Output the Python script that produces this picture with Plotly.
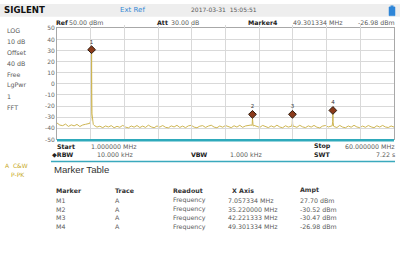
import plotly.graph_objects as go

W, H = 400, 271

# ---------------- data ----------------
noise_start_mhz = 1.0
noise_step_mhz = 0.5
noise_dbm = [
    -35.2, -37.1, -37.6, -36.2, -38.3, -36.9, -37.8, -36.5, -38.4, -37.0,
    -36.4, -35.7, -33.0, -37.4, -38.9, -38.1, -39.4, -37.9, -38.8, -37.6,
    -39.5, -38.2, -39.1, -37.4, -38.9, -39.6, -37.9, -39.0, -37.5, -39.3,
    -38.0, -39.2, -37.2, -38.7, -39.5, -37.9, -38.9, -37.5, -39.1, -39.6,
    -37.8, -38.8, -37.3, -39.2, -38.0, -39.4, -37.8, -37.3, -38.9, -39.5,
    -38.1, -37.6, -39.2, -38.0, -37.2, -38.9, -39.5, -37.9, -39.0, -37.5,
    -38.8, -39.4, -37.7, -38.9, -37.3, -39.1, -37.9, -37.1, -37.0, -37.4,
    -38.5, -39.2, -37.4, -38.7, -39.4, -37.8, -39.0, -37.2, -38.8, -39.5,
    -37.7, -38.9, -37.9, -38.2, -39.1, -37.3, -38.7, -39.4, -37.8, -38.9,
    -37.4, -39.0, -39.6, -38.0, -37.5, -38.8, -38.0, -38.4, -39.3, -37.4,
    -38.9, -39.5, -37.9, -39.0, -37.3, -38.8, -39.4, -38.0, -39.1, -37.5,
    -38.7, -39.5, -37.7, -38.9, -37.4, -38.8, -39.3, -37.9, -38.9,
]

peak1_mhz = [6.75, 6.9, 6.98, 7.02, 7.057334, 7.09, 7.13, 7.22, 7.35]
peak1_dbm = [-35.5, -33.0, -25.0, -5.0, 27.70, -8.0, -27.0, -33.5, -36.5]
peak2_mhz = [35.1, 35.18, 35.22, 35.26, 35.34]
peak2_dbm = [-37.5, -36.0, -30.52, -36.5, -38.0]
peak3_mhz = [42.1, 42.18, 42.221333, 42.26, 42.34]
peak3_dbm = [-38.0, -35.5, -30.47, -36.0, -38.2]
peak4_mhz = [49.18, 49.26, 49.301334, 49.34, 49.42]
peak4_dbm = [-37.8, -34.0, -26.98, -34.5, -38.1]

marker_names = ["M1", "M2", "M3", "M4"]
marker_labels = ["1", "2", "3", "4"]
marker_trace = ["A", "A", "A", "A"]
marker_readout = ["Frequency", "Frequency", "Frequency", "Frequency"]
marker_mhz = [7.057334, 35.220000, 42.221333, 49.301334]
marker_dbm = [27.70, -30.52, -30.47, -26.98]
marker_x_text = ["7.057334 MHz", "35.220000 MHz", "42.221333 MHz", "49.301334 MHz"]
marker_a_text = ["27.70 dBm", "-30.52 dBm", "-30.47 dBm", "-26.98 dBm"]

y_ticks = [50, 40, 30, 20, 10, 0, -10, -20, -30, -40, -50]
y_ticktext = ["50", "40", "30", "20", "10", "0", "-10", "-20", "-30", "-40", "-50"]
start_mhz, stop_mhz = 1.0, 60.0

# ---------------- build trace ----------------
peaks = [(peak1_mhz, peak1_dbm), (peak2_mhz, peak2_dbm),
         (peak3_mhz, peak3_dbm), (peak4_mhz, peak4_dbm)]
pts = []
for i, v in enumerate(noise_dbm):
    f = noise_start_mhz + i * noise_step_mhz
    if any(min(pf) <= f <= max(pf) for pf, _ in peaks):
        continue
    pts.append((f, v))
for pf, pd_ in peaks:
    pts.extend(zip(pf, pd_))
pts.sort()
tr_x = [p[0] for p in pts]
tr_y = [p[1] for p in pts]

# ---------------- layout geometry ----------------
PL, PR, PT, PB = 57, 394, 25, 139
xdom = [PL / W, PR / W]
ydom = [1 - PB / H, 1 - PT / H]
shift = 3.5 / H

fig = go.Figure()
fig.add_trace(go.Scatter(x=tr_x, y=tr_y, mode="lines",
                         line=dict(color="#cdb552", width=1), hoverinfo="skip",
                         xaxis="x", yaxis="y"))
fig.add_trace(go.Scatter(x=marker_mhz, y=marker_dbm, mode="markers+text",
                         text=marker_labels, textposition="top center",
                         textfont=dict(size=5.5, color="#333", family="DejaVu Sans"),
                         marker=dict(symbol="diamond", size=6, color="#8a3a1a",
                                     line=dict(color="#2e1c10", width=1)),
                         xaxis="x", yaxis="y2", cliponaxis=False))

ann = []


def T(x, y, s, size=6.3, color="#5a5a5a", anchor="left", family="DejaVu Sans"):
    ann.append(dict(x=x / W, y=1 - y / H, xref="paper", yref="paper", text=s,
                    showarrow=False, xanchor=anchor, yanchor="middle",
                    borderpad=0, font=dict(size=size, color=color, family=family)))


# header
T(3, 6.5, "<b>SIGLENT</b>", size=8.6, color="#111")
T(119, 6, "Ext Ref", size=7, color="#3388d4")
T(190, 6, "2017-03-31  15:05:51", size=6)
# second row
T(55, 19, "<b>Ref</b>", color="#222")
T(68, 19, "50.00 dBm")
T(156, 19, "<b>Att</b>", color="#222")
T(170, 19, "30.00 dB")
T(247, 19, "<b>Marker4</b>", color="#222")
T(292, 19, "49.301334 MHz")
T(396, 19, "-26.98 dBm", anchor="right")
# left panel
for yy, s in zip([27, 38, 50, 61, 72, 83, 95, 106],
                 ["LOG", "10 dB", "Offset", "40 dB", "Free", "LgPwr", "1", "FFT"]):
    T(6, yy, s)
# below plot
T(56, 146, "<b>Start</b>", color="#222")
T(90, 146, "1.000000 MHz")
T(313, 146, "<b>Stop</b>", color="#222")
T(396, 146, "60.000000 MHz", anchor="right")
T(51, 154, "<b>◆RBW</b>", color="#222")
T(134, 154, "10.000 kHz", anchor="right")
T(190, 154, "<b>VBW</b>", color="#222")
T(229, 154, "1.000 kHz")
T(313, 154, "<b>SWT</b>", color="#222")
T(396, 154, "7.22 s", anchor="right")
T(4, 166, "A  C&W", size=6, color="#c9ac2c")
T(10, 175, "P-PK", size=6, color="#c9ac2c")
# marker table
T(53, 169.5, "Marker Table", size=9.6, color="#333", family="Liberation Sans")
cols = [55, 114, 172, 231, 299]
for cx, s in zip(cols, ["Marker", "Trace", "Readout", "X Axis", "Ampt"]):
    T(cx, 191, "<b>" + s + "</b>", color="#333")
for i in range(len(marker_names)):
    yy = 201.5 + 9 * i
    T(cols[0], yy, marker_names[i])
    T(cols[1], yy, marker_trace[i])
    T(cols[2], yy, marker_readout[i])
    T(cols[3] - 4, yy, marker_x_text[i])
    T(cols[4], yy, marker_a_text[i])

shapes = [
    dict(type="rect", xref="paper", yref="paper", x0=0, x1=1, y0=1 - 13 / H, y1=1,
         fillcolor="#eeeeee", line=dict(width=0), layer="below"),
    # battery
    dict(type="rect", xref="paper", yref="paper", x0=389 / W, x1=395 / W,
         y0=1 - 12 / H, y1=1 - 3 / H, fillcolor="#2f86d8", line=dict(color="#2f86d8", width=0.5)),
    dict(type="rect", xref="paper", yref="paper", x0=390.5 / W, x1=393.5 / W,
         y0=1 - 3 / H, y1=1 - 1.5 / H, fillcolor="#2f86d8", line=dict(width=0)),
    # cyan bottom bar of the grid
    dict(type="line", xref="paper", yref="paper", x0=PL / W, x1=PR / W,
         y0=1 - 139.8 / H, y1=1 - 139.8 / H, line=dict(color="#2eaabb", width=2.6)),
    # cyan separator
    dict(type="line", xref="paper", yref="paper", x0=51 / W, x1=395 / W,
         y0=1 - 161.8 / H, y1=1 - 161.8 / H, line=dict(color="#3aa9bd", width=1.5)),
]

xgrid = [start_mhz + (stop_mhz - start_mhz) * k / 10 for k in range(11)]

fig.update_layout(
    width=W, height=H, margin=dict(l=0, r=0, t=0, b=0),
    paper_bgcolor="white", plot_bgcolor="rgba(0,0,0,0)",
    showlegend=False, annotations=ann, shapes=shapes,
    xaxis=dict(domain=xdom, range=[start_mhz, stop_mhz], tickvals=xgrid,
               showticklabels=False, showgrid=True, gridcolor="#d9d9d9", gridwidth=1,
               showline=True, linecolor="#a8a8a8", linewidth=1, mirror=True,
               zeroline=False, ticks="", fixedrange=True),
    yaxis=dict(domain=ydom, range=[-50, 50], tickvals=y_ticks, ticktext=y_ticktext,
               showgrid=True, gridcolor="#d9d9d9", gridwidth=1,
               showline=True, linecolor="#a8a8a8", linewidth=1, mirror=True,
               zeroline=False, ticks="", ticklabelstandoff=0,
               tickfont=dict(size=6, color="#666", family="DejaVu Sans")),
    yaxis2=dict(domain=[ydom[0] + shift, ydom[1] + shift], range=[-50, 50],
                anchor="x", visible=False, showgrid=False, zeroline=False),
)

fig.write_html("out.html")
